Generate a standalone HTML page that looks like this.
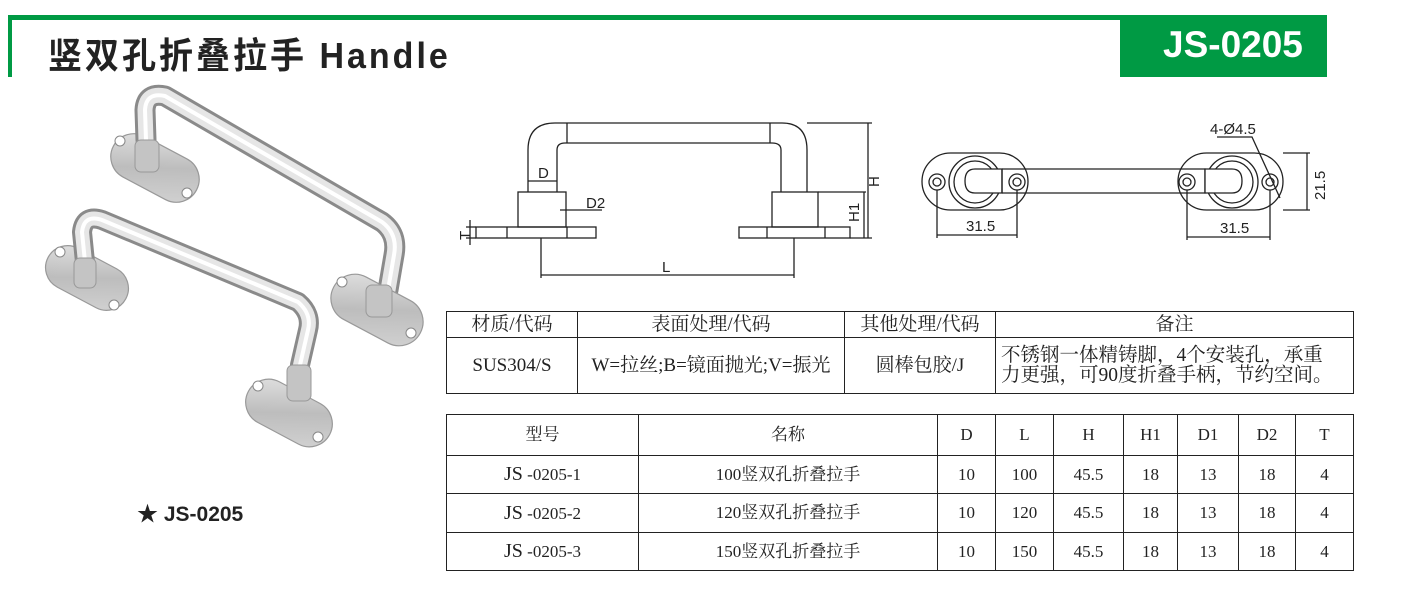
<!DOCTYPE html>
<html><head><meta charset="utf-8"><style>
body{margin:0;width:1404px;height:600px;background:#fff;position:relative;overflow:hidden;font-family:"Liberation Serif","Noto Serif CJK SC",serif;}
.abs{position:absolute}
table{border-collapse:collapse;position:absolute;table-layout:fixed}
td{border:1.5px solid #222;text-align:center;font-size:17px;color:#222;padding:0;line-height:1.05}
</style></head><body>
<div class="abs" style="left:8px;top:15px;width:1319px;height:5px;background:#009a44"></div>
<div class="abs" style="left:8px;top:15px;width:4px;height:62px;background:#009a44"></div>
<div class="abs" style="left:1120px;top:15px;width:207px;height:62px;background:#009a44"></div>
<div class="abs" style="left:48px;top:27px;font:bold 34px 'Liberation Sans','Noto Sans CJK SC',sans-serif;color:#222;letter-spacing:3px;transform:scaleY(1.05);transform-origin:left top">竖双孔折叠拉手 Handle</div>
<div class="abs" style="left:1163px;top:24px;font:bold 37px 'Liberation Sans',sans-serif;color:#fff;letter-spacing:0px">JS-0205</div>
<div class="abs" style="left:137px;top:498px;font:bold 21px 'Liberation Sans','Noto Sans CJK SC',sans-serif;color:#222">★ JS-0205</div>

<svg class="abs" style="left:0;top:0" width="1404" height="600">
<defs><linearGradient id="g" x1="0" y1="0" x2="1" y2="1"><stop offset="0" stop-color="#e4e4e4"/><stop offset=".5" stop-color="#bdbdbd"/><stop offset="1" stop-color="#d4d4d4"/></linearGradient></defs>
<g fill="url(#g)" stroke="#999" stroke-width="1.2">
<rect x="108" y="145" width="94" height="46" rx="23" transform="rotate(28 155 168)"/>
<rect x="43" y="256" width="88" height="44" rx="22" transform="rotate(28 87 278)"/>
</g>
<g fill="none" stroke-linecap="round" stroke-linejoin="round">
<path d="M146 140 L145 110 Q146 92 165 96 L382 222 Q398 234 394 255 L388 290" stroke="#8a8a8a" stroke-width="21"/>
<path d="M146 140 L145 110 Q146 92 165 96 L382 222 Q398 234 394 255 L388 290" stroke="#e6e6e6" stroke-width="15"/>
<path d="M146 140 L145 110 Q146 92 165 96 L382 222 Q398 234 394 255 L388 290" stroke="#fff" stroke-width="4"/>
</g>
<g fill="url(#g)" stroke="#999" stroke-width="1.2">
<rect x="328" y="286" width="98" height="48" rx="24" transform="rotate(28 377 310)"/>
<rect x="243" y="390" width="92" height="46" rx="23" transform="rotate(28 289 413)"/>
</g>
<g fill="none" stroke-linecap="round" stroke-linejoin="round">
<path d="M85 262 L82 232 Q84 214 102 220 L298 302 Q312 314 308 330 L300 365" stroke="#8a8a8a" stroke-width="20"/>
<path d="M85 262 L82 232 Q84 214 102 220 L298 302 Q312 314 308 330 L300 365" stroke="#e6e6e6" stroke-width="14"/>
<path d="M85 262 L82 232 Q84 214 102 220 L298 302 Q312 314 308 330 L300 365" stroke="#fff" stroke-width="4"/>
</g>
<g fill="#c4c4c4" stroke="#999">
<rect x="135" y="140" width="24" height="32" rx="6"/>
<rect x="74" y="258" width="22" height="30" rx="6"/>
<rect x="366" y="285" width="26" height="32" rx="6"/>
<rect x="287" y="365" width="24" height="36" rx="6"/>
</g>
<g fill="#fff" stroke="#888"><circle cx="120" cy="141" r="5"/><circle cx="187" cy="193" r="5"/><circle cx="342" cy="282" r="5"/><circle cx="411" cy="333" r="5"/><circle cx="60" cy="252" r="5"/><circle cx="114" cy="305" r="5"/><circle cx="258" cy="386" r="5"/><circle cx="318" cy="437" r="5"/></g>

<g fill="none" stroke="#222" stroke-width="1.3">
<path d="M528 192 L528 150 Q528 123 555 123 L782 123 Q807 123 807 150 L807 192"/>
<path d="M557 192 L557 150 Q557 143 565 143 L772 143 Q781 143 781 150 L781 192"/>
<line x1="567" y1="123" x2="567" y2="143"/><line x1="770" y1="123" x2="770" y2="143"/>
<rect x="518" y="192" width="48" height="35"/><rect x="772" y="192" width="46" height="35"/>
<rect x="476" y="227" width="120" height="11"/><rect x="739" y="227" width="111" height="11"/>
<line x1="507" y1="227" x2="507" y2="238"/><line x1="567" y1="227" x2="567" y2="238"/>
<line x1="767" y1="227" x2="767" y2="238"/><line x1="825" y1="227" x2="825" y2="238"/>
<line x1="541" y1="238" x2="541" y2="278"/><line x1="794" y1="238" x2="794" y2="278"/>
<line x1="541" y1="275" x2="794" y2="275"/>
<line x1="807" y1="123" x2="872" y2="123"/><line x1="850" y1="238" x2="872" y2="238"/>
<line x1="868" y1="123" x2="868" y2="238"/>
<line x1="818" y1="192" x2="866" y2="192"/><line x1="864" y1="192" x2="864" y2="238"/>
<line x1="528" y1="181" x2="557" y2="181"/>
<line x1="560" y1="210" x2="602" y2="210"/>
<line x1="470" y1="220" x2="470" y2="245"/><line x1="466" y1="227" x2="476" y2="227"/><line x1="466" y1="238" x2="476" y2="238"/>
<rect x="922" y="153" width="106" height="57" rx="28.5"/>
<rect x="1178" y="153" width="105" height="57" rx="28.5"/>
<circle cx="975" cy="182" r="26"/><circle cx="975" cy="182" r="21"/>
<circle cx="1232" cy="182" r="26"/><circle cx="1232" cy="182" r="21"/>
<circle cx="937" cy="182" r="8"/><circle cx="937" cy="182" r="4"/>
<circle cx="1017" cy="182" r="8"/><circle cx="1017" cy="182" r="4"/>
<circle cx="1187" cy="182" r="8"/><circle cx="1187" cy="182" r="4"/>
<circle cx="1270" cy="182" r="8"/><circle cx="1270" cy="182" r="4"/>
<path d="M1002 169 L1205 169 L1205 193 L1002 193"/>
<path d="M1002 169 L975 169 Q965 169 965 181 Q965 193 975 193 L1002 193 Z" fill="#fff"/>
<path d="M1205 169 L1232 169 Q1242 169 1242 181 Q1242 193 1232 193 L1205 193 Z" fill="#fff"/>
<line x1="1002" y1="169" x2="1002" y2="193"/>
<line x1="937" y1="190" x2="937" y2="238"/><line x1="1017" y1="190" x2="1017" y2="238"/>
<line x1="937" y1="235" x2="1017" y2="235"/>
<line x1="1187" y1="190" x2="1187" y2="240"/><line x1="1270" y1="190" x2="1270" y2="240"/>
<line x1="1187" y1="237" x2="1270" y2="237"/>
<line x1="1283" y1="153" x2="1310" y2="153"/><line x1="1283" y1="210" x2="1310" y2="210"/>
<line x1="1307" y1="153" x2="1307" y2="210"/>
<path d="M1217 137 L1252 137 L1280 198"/>
</g>
<g font-family="Liberation Sans,sans-serif" font-size="15" fill="#222">
<text x="538" y="178">D</text><text x="586" y="208">D2</text><text x="662" y="272">L</text>
<text x="966" y="231">31.5</text><text x="1220" y="233">31.5</text><text x="1210" y="134">4-Ø4.5</text>
<text transform="translate(879 187) rotate(-90)">H</text>
<text transform="translate(859 222) rotate(-90)">H1</text>
<text transform="translate(470 240) rotate(-90)">T</text>
<text transform="translate(1325 200) rotate(-90)">21.5</text>
</g>
</svg>

<table style="left:446px;top:311px;width:907px">
<colgroup><col style="width:131px"><col style="width:267px"><col style="width:151px"><col style="width:358px"></colgroup>
<tr style="height:26px"><td style="font-size:19px">材质/代码</td><td style="font-size:19px">表面处理/代码</td><td style="font-size:19px">其他处理/代码</td><td style="font-size:19px">备注</td></tr>
<tr style="height:56px"><td style="font-size:19px">SUS304/S</td><td style="font-size:19px">W=拉丝;B=镜面抛光;V=振光</td><td style="font-size:19px">圆棒包胶/J</td><td style="text-align:left;padding-left:5px;font-size:19.5px;letter-spacing:0px;line-height:1.0">不锈钢一体精铸脚，4个安装孔，承重<br>力更强，可90度折叠手柄，节约空间。</td></tr>
</table>
<table style="left:446px;top:414px;width:907px">
<colgroup><col style="width:192px"><col style="width:299px"><col style="width:58px"><col style="width:58px"><col style="width:70px"><col style="width:54px"><col style="width:61px"><col style="width:57px"><col style="width:58px"></colgroup>
<tr style="height:41px"><td>型号</td><td>名称</td><td>D</td><td>L</td><td>H</td><td>H1</td><td>D1</td><td>D2</td><td>T</td></tr>
<tr style="height:38px"><td><span style="font-size:20px">JS</span> -0205-1</td><td>100竖双孔折叠拉手</td><td>10</td><td>100</td><td>45.5</td><td>18</td><td>13</td><td>18</td><td>4</td></tr>
<tr style="height:39px"><td><span style="font-size:20px">JS</span> -0205-2</td><td>120竖双孔折叠拉手</td><td>10</td><td>120</td><td>45.5</td><td>18</td><td>13</td><td>18</td><td>4</td></tr>
<tr style="height:38px"><td><span style="font-size:20px">JS</span> -0205-3</td><td>150竖双孔折叠拉手</td><td>10</td><td>150</td><td>45.5</td><td>18</td><td>13</td><td>18</td><td>4</td></tr>
</table>
</body></html>
